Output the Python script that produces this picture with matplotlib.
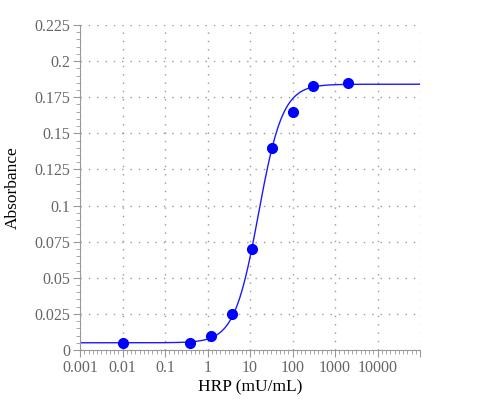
import numpy as np
import matplotlib.pyplot as plt
from matplotlib.ticker import FixedLocator, FuncFormatter, MultipleLocator, NullFormatter

plt.rcParams['font.family'] = ['Liberation Serif', 'DejaVu Serif']

# Measured points
hrp = [0.01, 0.38, 1.2, 3.7, 11, 33, 100, 300, 2000]
absorb = [0.005, 0.005, 0.010, 0.025, 0.070, 0.140, 0.165, 0.183, 0.185]

# 4PL fit parameters
bottom = 0.005
top = 0.184
ec50 = 15.9
hill = 1.53

xx = np.logspace(-3, 5, 400)
yy = bottom + (top - bottom) / (1 + (ec50 / xx) ** hill)

fig = plt.figure(figsize=(5, 4), dpi=100)
ax = fig.add_axes([0.16, 0.125, 0.68, 0.8125])

ax.plot(xx, yy, color='#1a1aff', linewidth=1)
ax.plot(hrp, absorb, 'o', color='#0000ff', markersize=7, clip_on=False, zorder=3)

ax.set_xscale('log')
ax.set_xlim(1e-3, 1e5)
ax.set_ylim(0, 0.225)

ax.xaxis.set_major_locator(FixedLocator([1e-3, 1e-2, 1e-1, 1, 10, 100, 1000, 10000, 100000]))
ax.xaxis.set_major_formatter(FuncFormatter(lambda v, p: '' if v > 5e4 else '%g' % v))
ax.xaxis.set_minor_locator(FixedLocator(10 ** np.arange(-3, 5.001, 0.1)))
ax.xaxis.set_minor_formatter(NullFormatter())
ax.yaxis.set_major_locator(MultipleLocator(0.025))
ax.yaxis.set_major_formatter(FuncFormatter(lambda v, p: '%g' % round(v, 3)))
ax.yaxis.set_minor_locator(MultipleLocator(0.005))
ax.yaxis.set_minor_formatter(NullFormatter())

ax.grid(True, which='major', linestyle=(0, (1, 5)), color='#999999', linewidth=1)

for s in ['top', 'right']:
    ax.spines[s].set_visible(False)
for s in ['left', 'bottom']:
    ax.spines[s].set_color('#999999')

ax.tick_params(which='major', length=5, color='#999999', labelcolor='#666666', labelsize=11.5, pad=2)
ax.tick_params(which='minor', length=3, color='#999999')

ax.set_xlabel('HRP (mU/mL)', fontsize=12.5, labelpad=3)
ax.set_ylabel('Absorbance', fontsize=12.5, labelpad=10)

plt.savefig('out.png')
